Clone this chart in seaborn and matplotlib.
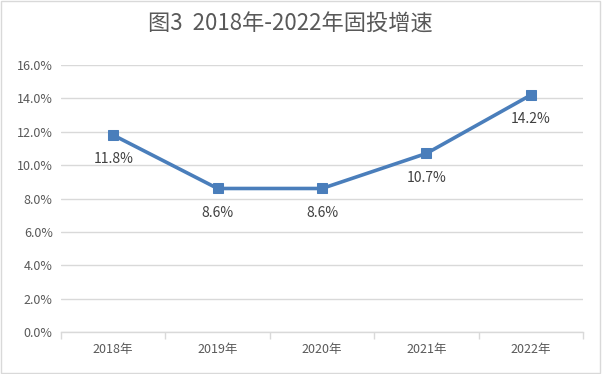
import matplotlib
matplotlib.use("Agg")
import matplotlib.pyplot as plt
import seaborn as sns
import pandas as pd
from matplotlib.patches import Rectangle

years = ["2018年", "2019年", "2020年", "2021年", "2022年"]
growth = [11.8, 8.6, 8.6, 10.7, 14.2]
yticks = [0, 2, 4, 6, 8, 10, 12, 14, 16]
title = "图3  2018年-2022年固投增速"

sns.set_theme(style="white")
plt.rcParams['font.family'] = ['Noto Sans CJK SC', 'DejaVu Sans']

df = pd.DataFrame({"year": years, "growth": growth, "x": range(len(years))})

fig = plt.figure(figsize=(6.02, 3.74), dpi=100)
fig.patches.append(Rectangle((0.002, 0.003), 0.995, 0.993, transform=fig.transFigure,
                             fill=False, edgecolor="#D9D9D9", linewidth=1.0))
ax = fig.add_axes([61/602, 1 - 332/374, (583-61)/602, (332-65)/374])

color = "#4A7EBB"
sns.lineplot(data=df, x="x", y="growth", ax=ax, color=color, linewidth=2.6,
             marker="s", markersize=7, markeredgecolor=color, markerfacecolor=color)

for xi, v in zip(df["x"], growth):
    ax.annotate(f"{v:.1f}%", (xi, v), xytext=(0, -17.5), textcoords="offset points",
                ha="center", va="center", fontsize=10, color="#404040")

ax.set_xlim(-0.5, len(years) - 0.5)
ax.set_ylim(0, 16)
ax.set_yticks(yticks)
ax.set_yticklabels([f"{t:.1f}%" for t in yticks], fontsize=9, color="#595959")
ax.set_xticks(range(len(years)))
ax.set_xticklabels(years, fontsize=9, color="#595959")
ax.set_xticks([i - 0.5 for i in range(len(years) + 1)], minor=True)
ax.tick_params(axis="x", which="major", length=0, pad=8)
ax.tick_params(axis="x", which="minor", length=5, color="#D9D9D9", width=1, direction="out", bottom=True)
ax.tick_params(axis="y", length=0, pad=6)
ax.set_xlabel("")
ax.set_ylabel("")
ax.grid(axis="y", color="#D9D9D9", linewidth=1)
for s in ["top", "right", "left"]:
    ax.spines[s].set_visible(False)
ax.spines["bottom"].set_color("#D9D9D9")
ax.spines["bottom"].set_linewidth(1)
ax.set_axisbelow(True)

fig.text(290/602, 1 - 24/374, title, ha="center", va="center", fontsize=16, color="#595959")

fig.savefig("out.png", dpi=100)
